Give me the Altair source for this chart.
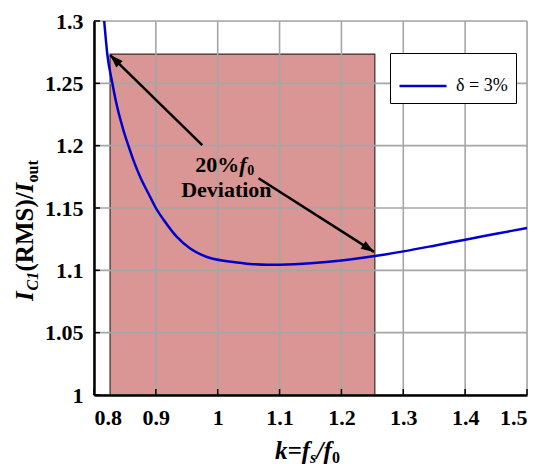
import altair as alt
import pandas as pd

SERIF = "Liberation Serif"

# ---- data ----
k_vals = [0.8165, 0.8216, 0.8297, 0.835, 0.8475, 0.8556, 0.8637, 0.8745, 0.888, 0.900,
          0.9151, 0.934, 0.9556, 0.9827, 1.0149, 1.0365, 1.060, 1.080, 1.100, 1.150,
          1.200, 1.254, 1.300, 1.350, 1.400, 1.450, 1.500]
i_vals = [1.300, 1.273, 1.250, 1.2366, 1.2125, 1.200, 1.1884, 1.175, 1.1616, 1.150,
          1.1388, 1.1268, 1.1175, 1.1107, 1.1073, 1.1060, 1.1048, 1.1044, 1.1045, 1.1056,
          1.1078, 1.1115, 1.1152, 1.1198, 1.1246, 1.1293, 1.1340]
series_name = "δ = 3%"

x_ticks = [0.8, 0.9, 1.0, 1.1, 1.2, 1.3, 1.4, 1.5]
y_ticks = [1.0, 1.05, 1.1, 1.15, 1.2, 1.25, 1.3]

band_k = [0.826, 1.254]       # shaded 20% deviation band
band_i = [1.0, 1.2735]

arrow_from_k = [0.975, 1.066]
arrow_from_i = [1.2004, 1.1739]
arrow_to_k = [0.8262, 1.2527]
arrow_to_i = [1.2727, 1.1148]
arrow_angle = [314.4, 122.8]

label_k = [0.9637, 1.014]
label_i = [1.179, 1.1589]

X_DOM = [0.8, 1.5]
Y_DOM = [1.0, 1.3]
W, H = 433, 374

xs = alt.Scale(domain=X_DOM, nice=False, zero=False)
ys = alt.Scale(domain=Y_DOM, nice=False, zero=False)

curve_df = pd.DataFrame({"k": k_vals, "i": i_vals, "s": [series_name] * len(k_vals)})
band_df = pd.DataFrame({"k1": [band_k[0]], "k2": [band_k[1]], "i1": [band_i[0]], "i2": [band_i[1]]})
xg_df = pd.DataFrame({"k": x_ticks})
yg_df = pd.DataFrame({"i": y_ticks})
arr_df = pd.DataFrame({"k1": arrow_from_k, "i1": arrow_from_i, "k2": arrow_to_k,
                       "i2": arrow_to_i, "ang": arrow_angle})
one = pd.DataFrame({"a": [0]})

axis_x = alt.Axis(values=x_ticks, format="~g", grid=False, ticks=False, domainColor="black",
                  domainWidth=2.5, labelFont=SERIF, labelFontSize=22, labelFontWeight="bold",
                  labelColor="black", labelPadding=12, title=None, zindex=1)
axis_y = alt.Axis(values=y_ticks, format="~g", grid=False, ticks=False, domainColor="black",
                  domainWidth=2.5, labelFont=SERIF, labelFontSize=22, labelFontWeight="bold",
                  labelColor="black", labelPadding=11, title=None, zindex=1)

band = alt.Chart(band_df).mark_rect(fill="#d99694", stroke="#3d2a2a", strokeWidth=1.2).encode(
    x=alt.X("k1:Q", scale=xs, axis=axis_x), x2="k2:Q",
    y=alt.Y("i1:Q", scale=ys, axis=axis_y), y2="i2:Q")

xgrid = alt.Chart(xg_df).mark_rule(color="#a6a6a6", strokeWidth=1.6).encode(
    x=alt.X("k:Q", scale=xs))
ygrid = alt.Chart(yg_df).mark_rule(color="#a6a6a6", strokeWidth=1.6).encode(
    y=alt.Y("i:Q", scale=ys))

xtick = alt.Chart(xg_df).mark_rule(color="black", strokeWidth=1.5).encode(
    x=alt.X("k:Q", scale=xs), y=alt.value(H), y2=alt.value(H - 6))
ytick = alt.Chart(yg_df).mark_rule(color="black", strokeWidth=1.5).encode(
    y=alt.Y("i:Q", scale=ys), x=alt.value(0), x2=alt.value(6))

curve = alt.Chart(curve_df).mark_line(strokeWidth=2.5, interpolate="monotone").encode(
    x=alt.X("k:Q", scale=xs),
    y=alt.Y("i:Q", scale=ys),
    color=alt.Color("s:N", scale=alt.Scale(domain=[series_name], range=["#0000cc"]),
                    legend=alt.Legend(title=None, orient="none", legendX=296, legendY=32,
                                      symbolType="stroke", symbolSize=2209,
                                      symbolStrokeWidth=2.5, labelFont=SERIF,
                                      labelFontSize=18, labelColor="black", labelOffset=8,
                                      padding=8, strokeColor="black", fillColor="white",
                                      symbolOffset=0)))

arrow_lines = alt.Chart(arr_df).mark_rule(color="black", strokeWidth=2.5).encode(
    x=alt.X("k1:Q", scale=xs), y=alt.Y("i1:Q", scale=ys), x2="k2:Q", y2="i2:Q")
arrow_heads = alt.Chart(arr_df).mark_point(
    shape="M0,0L-0.7,2L0.7,2Z", filled=True, color="black", opacity=1, size=169,
    strokeWidth=0).encode(
    x=alt.X("k2:Q", scale=xs), y=alt.Y("i2:Q", scale=ys), angle=alt.Angle("ang:Q", scale=None))


def dtext(s, k, i, size, style="normal", dx=0, dy=0, align="left"):
    df = pd.DataFrame({"k": [k], "i": [i]})
    return alt.Chart(df).mark_text(text=s, font=SERIF, fontSize=size, fontWeight="bold",
                                   fontStyle=style, align=align, baseline="alphabetic",
                                   color="black", dx=dx, dy=dy).encode(
        x=alt.X("k:Q", scale=xs), y=alt.Y("i:Q", scale=ys))


def ptext(s, x, y, size, style="normal", angle=0):
    return alt.Chart(one).mark_text(text=s, font=SERIF, fontSize=size, fontWeight="bold",
                                    fontStyle=style, align="left", baseline="alphabetic",
                                    angle=angle, color="black").encode(
        x=alt.value(x), y=alt.value(y))


annot = [
    dtext("20%", label_k[0], label_i[0], 22),
    dtext("f", label_k[0], label_i[0], 22, style="italic", dx=44),
    dtext("0", label_k[0], label_i[0], 14, dx=52, dy=3),
    dtext("Deviation", label_k[1], label_i[1], 22, align="center"),
]

# axis titles built from pieces (for subscripts)
ytitle = [
    ptext("I", -61, 280, 25, "italic", 270),
    ptext("C1", -56, 269.5, 16, "italic", 270),
    ptext("(RMS)/", -61, 250.5, 25, "normal", 270),
    ptext("I", -61, 171.5, 25, "italic", 270),
    ptext("out", -56, 161.5, 16, "normal", 270),
]
xtitle = [
    ptext("k=f", 181, 438, 25, "italic"),
    ptext("s", 216, 442, 16, "italic"),
    ptext("/f", 222.5, 438, 25, "italic"),
    ptext("0", 238, 442, 16, "normal"),
]

chart = alt.layer(band, xgrid, ygrid, xtick, ytick, curve, arrow_lines, arrow_heads,
                  *annot, *ytitle, *xtitle).properties(
    width=W, height=H, autosize="none",
    padding={"left": 86, "top": 13, "right": 15, "bottom": 71},
).configure_view(stroke=None).configure(background="white")

chart.save("out.html", embed_options={"renderer": "svg", "actions": False})
